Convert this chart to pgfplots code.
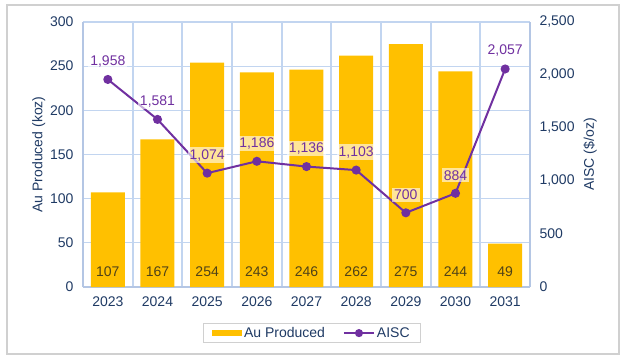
\documentclass[border=0pt]{standalone}
\usepackage{pgfplots}
\pgfplotsset{compat=1.18}
\usepackage{fontspec}
\setmainfont{Liberation Sans}
\definecolor{bargold}{HTML}{FFC000}
\definecolor{aisc}{HTML}{7030A0}
\definecolor{navy}{HTML}{1F3A64}
\definecolor{gridblue}{HTML}{C2D5F0}
\definecolor{axisblue}{HTML}{B4C6E4}
\definecolor{barlab}{HTML}{4F4218}
\definecolor{frame}{HTML}{D0D0D0}
\begin{document}
\begin{tikzpicture}
\useasboundingbox (-83pt,-72pt) rectangle (541pt,287pt);
\draw[frame, line width=1.2pt] (-76pt,-67pt) rectangle (536pt,282pt);
\begin{axis}[
  at={(0pt,0pt)}, anchor=south west,
  scale only axis, width=447pt, height=265pt,
  xmin=-0.5, xmax=8.5, ymin=0, ymax=300,
  xtick={0,...,8},
  xticklabels={2023,2024,2025,2026,2027,2028,2029,2030,2031},
  minor xtick={0.5,1.5,...,7.5},
  ytick={0,50,...,300},
  major tick length=0pt, minor tick length=0pt,
  ymajorgrids, xminorgrids,
  grid style={gridblue, line width=1.2pt},
  minor grid style={gridblue, line width=1.8pt},
  axis line style={axisblue, line width=1.2pt},
  axis y line*=left,
  axis x line*=bottom,
  ticklabel style={font=\fontsize{14}{16}\selectfont, text=navy},
  /pgf/number format/assume math mode=true,
  xticklabel style={yshift=-6pt},
  yticklabel style={xshift=-6pt},
  ylabel={Au Produced (koz)},
  ylabel style={font=\fontsize{14}{16}\selectfont, text=navy, yshift=-2pt},
  legend style={at={(0.512,-0.174)}, anchor=center, draw=frame, line width=1pt,
    font=\fontsize{14}{16}\selectfont, text=navy, legend columns=2,
    /tikz/every even column/.append style={column sep=16pt},
    inner xsep=9pt, inner ysep=2pt},
]
\addplot[ybar, bar width=34pt, fill=bargold, draw=none,
  legend image code/.code={\fill[bargold] (0pt,-3pt) rectangle (30pt,3pt);}
] coordinates {(0,107) (1,167) (2,254) (3,243) (4,246) (5,262) (6,275) (7,244) (8,49)};
\addlegendentry{Au Produced}
\addlegendimage{aisc, line width=2pt, mark=*, mark size=2.5pt,
  legend image code/.code={\draw[aisc, line width=2pt] (0pt,0pt) -- (30pt,0pt); \fill[aisc] (15pt,0pt) circle (3pt);}}
\addlegendentry{AISC}
\addplot[draw=none, mark=none, forget plot,
  nodes near coords, point meta=explicit symbolic,
  every node near coord/.append style={font=\fontsize{14}{16}\selectfont, text=barlab, anchor=center, yshift=15pt}
] coordinates {(0,0) [107] (1,0) [167] (2,0) [254] (3,0) [243] (4,0) [246] (5,0) [262] (6,0) [275] (7,0) [244] (8,0) [49]};
\end{axis}
\begin{axis}[
  at={(0pt,0pt)}, anchor=south west,
  scale only axis, width=447pt, height=265pt,
  xmin=-0.5, xmax=8.5, ymin=0, ymax=2500,
  axis y line*=right, axis x line=none,
  ytick={0,500,...,2500},
  major tick length=0pt,
  axis line style={axisblue, line width=1.2pt},
  ticklabel style={font=\fontsize{14}{16}\selectfont, text=navy},
  /pgf/number format/assume math mode=true,
  /pgf/number format/1000 sep={,},
  yticklabel style={xshift=6pt},
  ylabel={AISC (\$/oz)},
  ylabel style={font=\fontsize{14}{16}\selectfont, text=navy, yshift=-2pt},
]
\addplot[aisc, line width=2pt, mark=*, mark size=3.5pt,
  nodes near coords, point meta=y,
  every node near coord/.append style={font=\fontsize{14}{16}\selectfont, text=aisc,
    anchor=center, yshift=18pt, fill=white, fill opacity=0.6, text opacity=1, inner sep=2pt,
    /pgf/number format/1000 sep={,}}
] coordinates {(0,1958) (1,1581) (2,1074) (3,1186) (4,1136) (5,1103) (6,700) (7,884) (8,2057)};
\end{axis}
\end{tikzpicture}
\end{document}
